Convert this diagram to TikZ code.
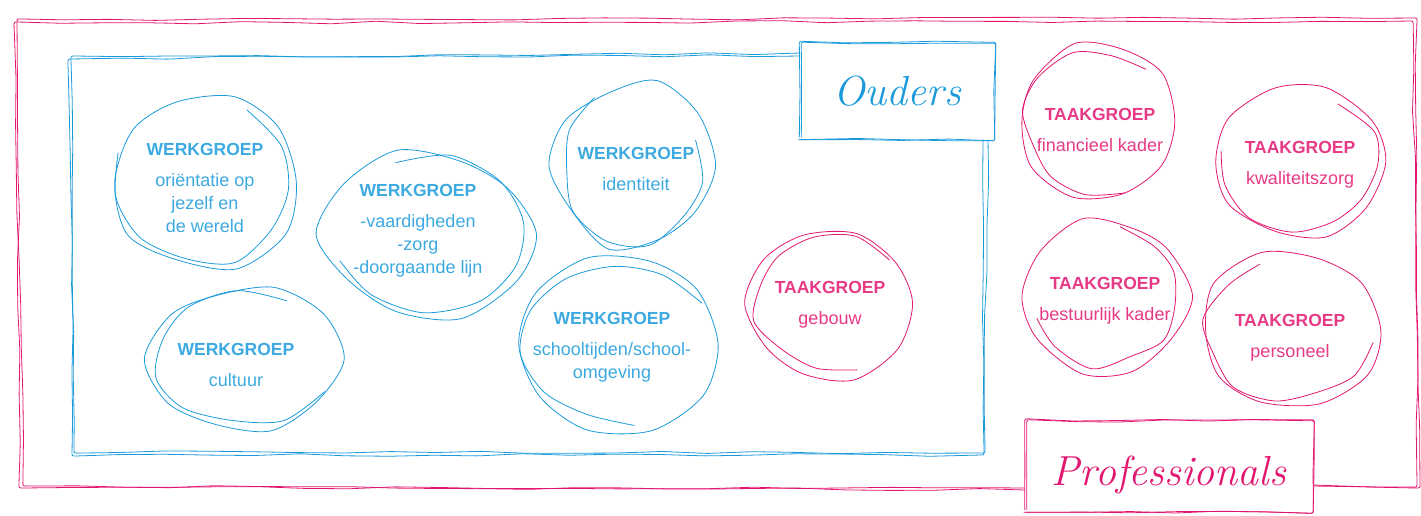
\documentclass[tikz,border=0pt]{standalone}
\usepackage{fontspec}
\setsansfont{Liberation Sans}
\usetikzlibrary{decorations.pathmorphing}
\usetikzlibrary{positioning}
\definecolor{ouderblue}{HTML}{1A9ADA}
\definecolor{profpink}{HTML}{E3166F}
\tikzset{sketch/.style={draw, line width=0.8pt, rounded corners=2pt, decorate, decoration={random steps, segment length=45pt, amplitude=1.3pt}}}
\tikzset{titlebox/.style={inner sep=0pt, font=\itshape\fontsize{42}{46}\selectfont}}
\tikzset{werk/.style={align=center, text=ouderblue!85, font=\sffamily\fontsize{18}{23}\selectfont}}
\tikzset{taak/.style={align=center, text=profpink!85, font=\sffamily\fontsize{18}{23}\selectfont}}
\newcommand{\kop}[1]{\textbf{\fontsize{17.5}{23}\selectfont #1}\\[8pt]}
\newcommand{\blob}[6]{%
\draw[#4, line width=0.8pt, shift={#1}] plot[smooth cycle, domain=0:324, samples=10] ({(#2+rnd*14-7)*cos(\x)},{(#3+rnd*14-7)*sin(\x)});
\draw[#4, line width=0.8pt, shift={#1}] plot[smooth, domain=#5:#6, samples=9] ({(#2-6+rnd*12-6)*cos(\x)},{(#3-6+rnd*12-6)*sin(\x)});}

\begin{document}
\begin{tikzpicture}[x=1pt,y=-1pt]
\useasboundingbox (0,0) rectangle (1421,515);
\pgfmathsetseed{23}

%Ouders
\node[titlebox, minimum width=195pt, minimum height=97pt, text=ouderblue] (ouders) at (897,91) {Ouders};
\draw[sketch, ouderblue] (ouders.south west) rectangle (ouders.north east);
\draw[sketch, ouderblue] ([xshift=2pt]ouders.south west) rectangle ([yshift=-1pt]ouders.north east);

%Professionals
\node[minimum width=288pt, minimum height=92pt] (prof) at (1169,466) {};
\node[titlebox, text=profpink] (proftitle) at ([yshift=-9pt]prof.center) {Professionals};
\draw[sketch, profpink] (prof.south west) rectangle (prof.north east);
\draw[sketch, profpink] ([xshift=2pt]prof.south west) rectangle ([yshift=-1pt]prof.north east);

%outer frame
\coordinate (pbl) at (20,488);
\coordinate (ptl) at (17,20);
\coordinate (ptr) at (1416,18);
\coordinate (pbr) at (1417,486);
\draw[sketch, profpink] (prof.west |- pbl) -- (pbl) -- (ptl) -- (ptr) -- (pbr) -- (prof.east |- pbr);
\draw[sketch, profpink] ([yshift=-2pt]prof.west |- pbl) -- ([shift={(4,-2)}]pbl) -- ([shift={(-3,3)}]ptl) -- ([shift={(-4,3)}]ptr) -- ([shift={(3,1)}]pbr) -- ([yshift=1pt]prof.east |- pbr);

%inner frame
\coordinate (btl) at (72,56);
\coordinate (bbl) at (72,455);
\coordinate (bbr) at (983,455);
\draw[sketch, ouderblue] (ouders.west |- btl) -- (btl) -- (bbl) -- (bbr) -- (bbr |- ouders.south);
\draw[sketch, ouderblue] ([yshift=3pt]ouders.west |- btl) -- ([shift={(-3,3)}]btl) -- ([shift={(2,-3)}]bbl) -- ([shift={(1,-2)}]bbr) -- ([xshift=5pt]bbr |- ouders.south);

%werkgroepen
\node[werk] (orient) at (205,188) {\kop{WERKGROEP}oriëntatie op\\jezelf en\\de wereld};
\blob{(205,182)}{95}{87}{ouderblue}{-60}{200}
\node[werk] (vaardig) at (418,231) {\kop{WERKGROEP}-vaardigheden\\-zorg\\-doorgaande lijn};
\blob{(428,234)}{105}{83}{ouderblue}{-110}{160}
\node[werk] (identiteit) at (636,169) {\kop{WERKGROEP}identiteit};
\blob{(633,166)}{78}{83}{ouderblue}{-20}{240}
\node[werk] (cultuur) at (236,365) {\kop{WERKGROEP}cultuur};
\blob{(243,359)}{96}{73}{ouderblue}{30}{300}
\node[werk] (schooltijden) at (612,347) {\kop{WERKGROEP}schooltijden/school-\\omgeving};
\blob{(619,344)}{100}{87}{ouderblue}{80}{330}

%taakgroepen
\node[taak] (gebouw) at (830,305) {\kop{TAAKGROEP}gebouw};
\blob{(830,303)}{81}{74}{profpink}{70}{320}
\node[taak] (financieel) at (1100,130) {\kop{TAAKGROEP}financieel kader};
\blob{(1098,122)}{80}{77}{profpink}{70}{310}
\node[taak] (kwaliteit) at (1300,165) {\kop{TAAKGROEP}kwaliteitszorg};
\blob{(1300,162)}{85}{73}{profpink}{-60}{190}
\node[taak] (bestuur) at (1105,301) {\kop{TAAKGROEP}bestuurlijk kader};
\blob{(1106,296)}{81}{76}{profpink}{-80}{160}
\node[taak] (personeel) at (1290,338) {\kop{TAAKGROEP}personeel};
\blob{(1290,331)}{90}{76}{profpink}{10}{250}

\end{tikzpicture}
\end{document}
